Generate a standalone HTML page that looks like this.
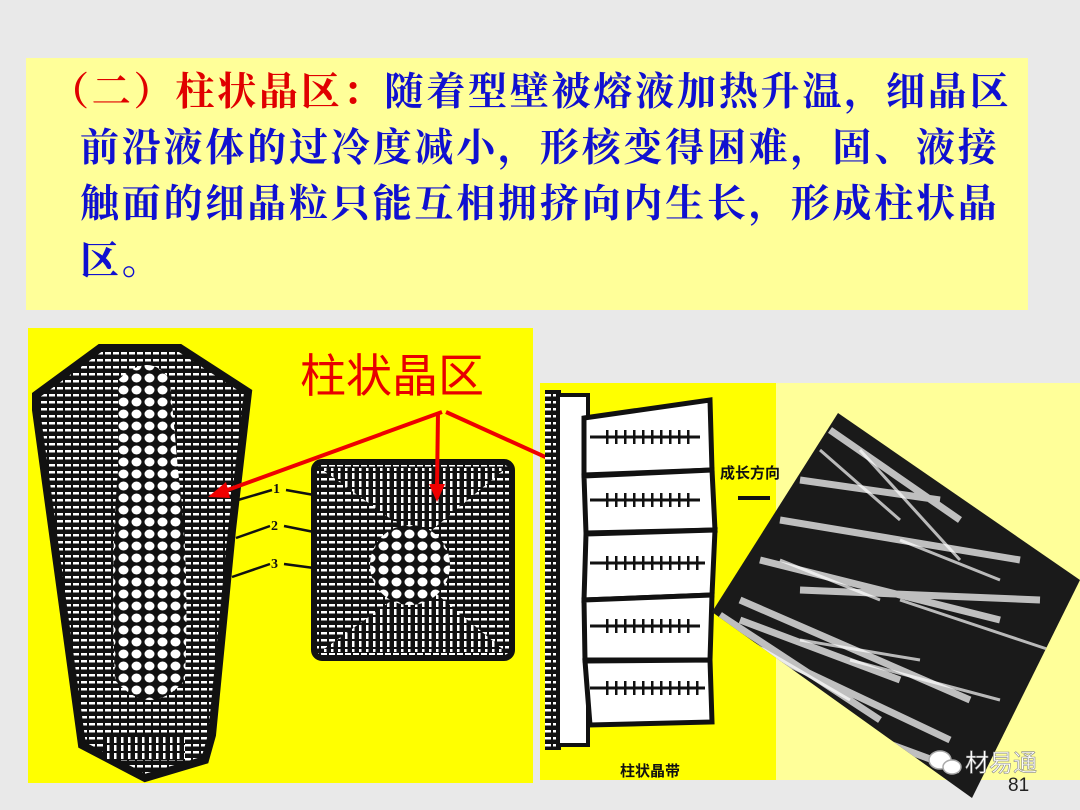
<!DOCTYPE html>
<html><head><meta charset="utf-8"><style>
body{margin:0;width:1080px;height:810px;background:#e9e9e9;position:relative;overflow:hidden;font-family:"Liberation Sans","Noto Sans CJK SC",sans-serif}
.box{position:absolute;left:26px;top:58px;width:1002px;height:252px;background:#ffff99}
.t{position:absolute;font-family:"Liberation Serif","Noto Serif CJK SC",serif;font-weight:bold;font-size:39px;line-height:44px;color:#1010d0;white-space:nowrap;letter-spacing:2.8px}
</style></head><body>
<div class="box"></div>
<div class="t" style="left:50px;top:71px"><span style="color:#e00000">（二）柱状晶区：</span>随着型壁被熔液加热升温，细晶区</div>
<div class="t" style="left:80px;top:127px">前沿液体的过冷度减小，形核变得困难，固、液接</div>
<div class="t" style="left:80px;top:183px">触面的细晶粒只能互相拥挤向内生长，形成柱状晶</div>
<div class="t" style="left:80px;top:240px">区。</div>
<svg width="1080" height="810" style="position:absolute;left:0;top:0">
<defs>
<pattern id="hs" width="8" height="7" patternUnits="userSpaceOnUse"><rect width="8" height="7" fill="#111"/><rect x="1" y="2" width="6" height="2.5" fill="#fff"/></pattern>
<pattern id="vs" width="7" height="8" patternUnits="userSpaceOnUse"><rect width="7" height="8" fill="#111"/><rect x="2" y="1" width="2.5" height="6" fill="#fff"/></pattern>
<pattern id="cells" width="13" height="12" patternUnits="userSpaceOnUse"><rect width="13" height="12" fill="#111"/><ellipse cx="6.5" cy="6" rx="5" ry="4.5" fill="#fff"/></pattern>
<pattern id="ticks" width="9" height="14" patternUnits="userSpaceOnUse"><rect x="3" y="0" width="2.5" height="14" fill="#111"/></pattern>
<clipPath id="dia"><polygon points="838,413 1080,580 972,798 712,612"/></clipPath>
</defs>
<rect x="28" y="328" width="505" height="455" fill="#ffff00"/>
<rect x="540" y="383" width="236" height="397" fill="#ffff00"/>
<rect x="776" y="383" width="304" height="397" fill="#ffff99"/>
<polygon points="36,395 100,348 180,348 248,392 232,530 212,735 205,760 145,778 82,745 36,410" fill="url(#hs)" stroke="#111" stroke-width="8"/>
<path d="M118,380 Q150,350 170,380 L178,470 Q190,560 185,680 Q150,720 115,680 Q110,560 118,470 Z" fill="url(#cells)"/>
<rect x="105" y="735" width="80" height="25" fill="url(#vs)"/>
<rect x="314" y="462" width="198" height="196" rx="8" fill="url(#hs)" stroke="#111" stroke-width="6"/>
<polygon points="320,468 506,468 420,540" fill="url(#vs)"/>
<polygon points="320,652 506,652 420,580" fill="url(#vs)"/>
<circle cx="410" cy="565" r="40" fill="url(#cells)"/>
<g stroke="#111" stroke-width="2.5" fill="none"><path d="M238,500 L272,490 M286,490 L314,495 M236,538 L270,526 M284,526 L314,532 M232,577 L270,564 M284,564 L314,568"/></g>
<g font-family="Liberation Serif,serif" font-weight="bold" font-size="14" fill="#111"><text x="273" y="493">1</text><text x="271" y="530">2</text><text x="271" y="568">3</text></g>
<text x="300" y="392" font-size="46" fill="#e80000" font-family="Liberation Sans,Noto Sans CJK SC,sans-serif">柱状晶区</text>
<g stroke="#ee0000" stroke-width="4" fill="#ee0000">
<line x1="442" y1="412" x2="222" y2="492"/><polygon points="208,497 226,482 230,498" stroke="none"/>
<line x1="438" y1="412" x2="437" y2="488"/><polygon points="437,502 429,484 445,484" stroke="none"/>
<line x1="446" y1="412" x2="618" y2="490"/><polygon points="632,496 612,496 620,481" stroke="none"/>
</g>
<rect x="545" y="390" width="16" height="360" fill="url(#hs)"/>
<rect x="558" y="395" width="30" height="350" fill="#fff" stroke="#111" stroke-width="4"/>
<g fill="#fff" stroke="#111" stroke-width="5">
<path d="M584,418 L710,400 L712,470 L584,475Z"/>
<path d="M584,476 L712,470 L715,530 L586,533Z"/>
<path d="M586,534 L715,530 L712,595 L584,600Z"/>
<path d="M584,600 L712,595 L710,660 L585,660Z"/>
<path d="M585,661 L710,660 L712,722 L590,725Z"/>
</g>
<g stroke="#111" stroke-width="3"><line x1="590" y1="437" x2="700" y2="437"/><line x1="590" y1="500" x2="700" y2="500"/><line x1="590" y1="563" x2="705" y2="563"/><line x1="590" y1="626" x2="700" y2="626"/><line x1="590" y1="688" x2="705" y2="688"/></g>
<g>
<rect x="600" y="430" width="95" height="14" fill="url(#ticks)"/>
<rect x="600" y="493" width="95" height="14" fill="url(#ticks)"/>
<rect x="600" y="556" width="100" height="14" fill="url(#ticks)"/>
<rect x="600" y="619" width="95" height="14" fill="url(#ticks)"/>
<rect x="600" y="681" width="100" height="14" fill="url(#ticks)"/>
</g>
<text x="720" y="478" font-size="15" font-weight="bold" fill="#111">成长方向</text>
<line x1="738" y1="498" x2="770" y2="498" stroke="#111" stroke-width="4"/>
<text x="620" y="776" font-size="15" font-weight="bold" fill="#111">柱状晶带</text>
<polygon points="838,413 1080,580 972,798 712,612" fill="#1a1a1a"/>
<g clip-path="url(#dia)">
<g stroke="#ddd" stroke-width="7" fill="none" opacity="0.85">
<path d="M760,560 L1000,620 M740,600 L970,700 M780,520 L1020,560 M800,480 L940,500 M760,650 L950,740 M740,620 L900,680 M830,430 L960,520 M720,615 L880,720 M800,590 L1040,600 M770,700 L960,770"/>
</g>
<g stroke="#fff" stroke-width="3" fill="none" opacity="0.7"><path d="M820,450 L900,520 M860,450 L960,560 M730,630 L850,700 M900,600 L1050,650 M780,560 L880,600 M850,660 L1000,700 M900,540 L1000,580 M800,640 L920,660"/></g>
</g>
<text x="965" y="771" font-size="24" fill="#fff" stroke="#888" stroke-width="0.6">材易通</text>
<text x="1008" y="791" font-size="19" fill="#222">81</text>
<g fill="#fff" stroke="#aaa" stroke-width="1.5"><ellipse cx="940" cy="760" rx="11" ry="9"/><ellipse cx="952" cy="767" rx="9" ry="7"/></g>
</svg>
</body></html>
